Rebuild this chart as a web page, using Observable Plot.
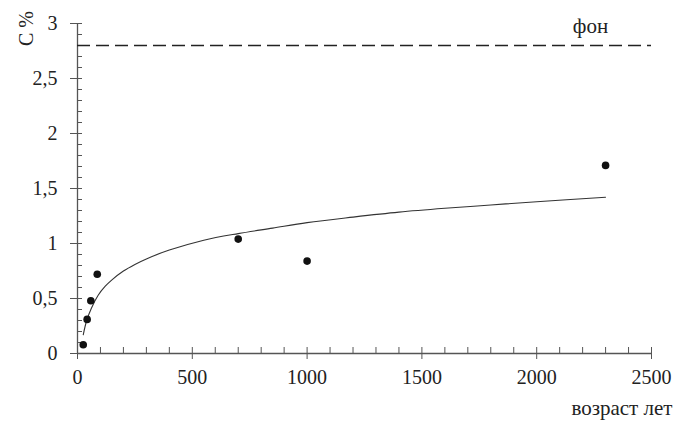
<!DOCTYPE html>
<html>
<head>
<meta charset="utf-8">
<script src="https://cdn.jsdelivr.net/npm/d3@7"></script>
<script src="https://cdn.jsdelivr.net/npm/@observablehq/plot@0.6"></script>
<style>
  html, body { margin: 0; padding: 0; background: #fff; }
  #chart svg, #chart svg text, #chart svg g { font-family: "Liberation Serif", serif !important; }
</style>
</head>
<body>
<div id="chart"></div>
<script>
// Measured samples (age in years, carbon %)
const sampleAge = [25, 42, 58, 86, 700, 1000, 2300];
const sampleC   = [0.08, 0.31, 0.48, 0.72, 1.04, 0.84, 1.71];

// Trend curve
const trendAge = [25, 40, 60, 90, 120, 150, 200, 250, 300, 400, 550, 700, 850, 1000, 1200, 1400, 1600, 1800, 2000, 2300];
const trendC   = [0.17, 0.30, 0.41, 0.53, 0.61, 0.67, 0.75, 0.81, 0.86, 0.94, 1.03, 1.09, 1.14, 1.19, 1.24, 1.285, 1.32, 1.35, 1.38, 1.42];

// Background level
const background = [2.8];
const backgroundLabel = ["фон"];

// Axis ticks
const xMajor = [0, 500, 1000, 1500, 2000, 2500];
const xMinor = d3.range(0, 2501, 100).filter(v => v % 500 !== 0);
const yMajor = [0, 0.5, 1, 1.5, 2, 2.5, 3];
const yMinor = d3.range(0, 31, 1).map(v => v / 10).filter(v => Math.round(v * 10) % 5 !== 0);

const yTitle = ["C %"];
const xTitle = ["возраст лет"];

const samples = sampleAge.map((a, i) => ({age: a, c: sampleC[i]}));
const trend = trendAge.map((a, i) => ({age: a, c: trendC[i]}));

const fmt = v => String(v).replace(".", ",");
const axisColor = "#555";
const serif = "Liberation Serif";

const chart = Plot.plot({
  width: 679,
  height: 425,
  marginLeft: 77,
  marginRight: 28,
  marginTop: 23,
  marginBottom: 72,
  style: {fontSize: "20px", color: "#222", background: "#fff"},
  x: {domain: [0, 2500]},
  y: {domain: [0, 3]},
  marks: [
    // axis lines
    Plot.ruleX([0], {stroke: axisColor, strokeWidth: 1.3}),
    Plot.ruleY([0], {stroke: axisColor, strokeWidth: 1.3}),
    // y ticks
    Plot.axisY({ticks: yMajor, tickSize: 12, dx: 5, tickFormat: () => "", label: null, stroke: axisColor}),
    Plot.axisY({ticks: yMinor, tickSize: 5, dx: 5, tickFormat: () => "", label: null, stroke: axisColor}),
    Plot.axisY({ticks: yMajor, tickSize: 0, tickPadding: 20, tickFormat: fmt, label: null, fill: "#222", fontSize: 20, fontFamily: serif}),
    // x ticks
    Plot.axisX({ticks: xMajor, tickSize: 12, dy: -6, tickFormat: () => "", label: null, stroke: axisColor}),
    Plot.axisX({ticks: xMinor, tickSize: 6, dy: -6, tickFormat: () => "", label: null, stroke: axisColor}),
    Plot.axisX({ticks: xMajor, tickSize: 0, tickPadding: 16, tickFormat: d => String(d), label: null, fill: "#222", fontSize: 20, fontFamily: serif}),
    // background dashed line
    Plot.ruleY(background, {stroke: "#222", strokeWidth: 1.5, strokeDasharray: "13,6"}),
    // trend curve
    Plot.line(trend, {x: "age", y: "c", stroke: "#333", strokeWidth: 1.1, curve: "catmull-rom"}),
    // samples
    Plot.dot(samples, {x: "age", y: "c", r: 3.8, fill: "#111", stroke: "none"}),
    // texts
    Plot.text(backgroundLabel, {text: d => d, frameAnchor: "top-right", dx: -61, dy: -5, textAnchor: "middle", fontSize: 21, fill: "#222", fontFamily: serif}),
    Plot.text(yTitle, {text: d => d, frameAnchor: "top-left", dx: -59, dy: 5, rotate: -90, textAnchor: "middle", fontSize: 20, fill: "#222", fontFamily: serif}),
    Plot.text(xTitle, {text: d => d, frameAnchor: "bottom-right", dx: 21, dy: 61, textAnchor: "end", fontSize: 21, fill: "#222", fontFamily: serif})
  ]
});

chart.setAttribute("font-family", serif);
chart.querySelectorAll("g, text, tspan").forEach(el => {
  el.setAttribute("font-family", serif);
  el.style.setProperty("font-family", "'Liberation Serif', serif", "important");
});

document.getElementById("chart").appendChild(chart);
</script>
</body>
</html>
